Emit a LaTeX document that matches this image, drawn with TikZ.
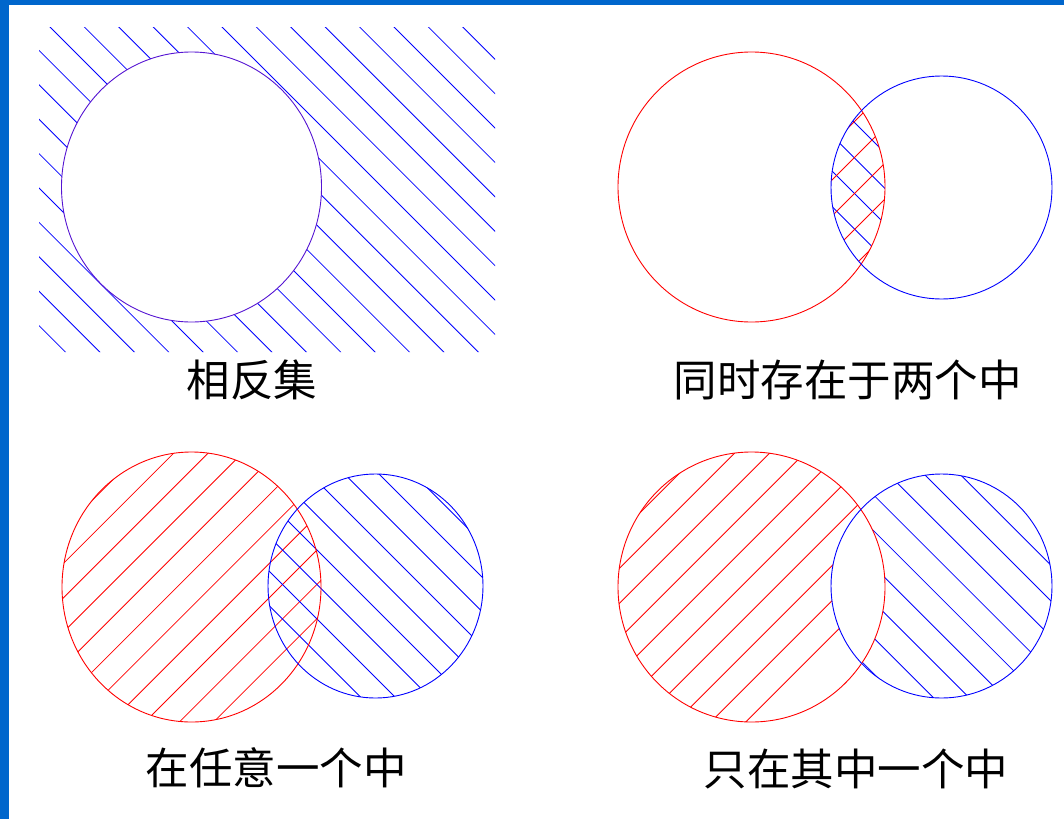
\documentclass[tikz,border=0pt]{standalone}
\usepackage{fontspec}
\newfontfamily\cjk{Noto Sans CJK SC}
\definecolor{frameblue}{RGB}{0,102,204}
\definecolor{hred}{RGB}{255,0,0}
\definecolor{hblue}{RGB}{0,0,255}
\definecolor{outl}{RGB}{85,20,210}
\begin{document}
\begin{tikzpicture}[x=1pt,y=-1pt,
  hatch/.style={line width=0.8pt},
  ring/.style={line width=0.9pt},
  lbl/.style={font=\cjk\fontsize{43.5}{43.5}\selectfont, inner sep=0pt, text=black}]
\useasboundingbox (0,0) rectangle (1064,819);
\fill[frameblue] (0,0) rectangle (1064,5);
\fill[frameblue] (0,0) rectangle (8.5,819);

% ---------- Panel 1: complement ----------
\begin{scope}[even odd rule]
  \clip (39,27) rectangle (495,352) (191.5,187) ellipse [x radius=130, y radius=135];
  \foreach \k in {-12,...,13}
    \draw[hatch,hblue] ({23+34.4*\k},0) -- ({23+34.4*\k+819},819);
\end{scope}
\draw[ring,outl] (191.5,187) ellipse [x radius=130, y radius=135];
\node[lbl] (l1) at (252,380) {相反集};

% ---------- Panel 2: intersection ----------
\begin{scope}
  \clip (751.5,187) ellipse [x radius=133.5, y radius=135];
  \clip (941.5,187.5) ellipse [x radius=110.5, y radius=111.5];
  \foreach \k in {-4,...,6}
    \draw[hatch,hblue] ({661+35.5*\k},0) -- ({661+35.5*\k+819},819);
  \foreach \k in {-4,...,6}
    \draw[hatch,hred] ({1012+36*\k},0) -- ({1012+36*\k-819},819);
\end{scope}
\draw[ring,hred] (751.5,187) ellipse [x radius=133.5, y radius=135];
\draw[ring,hblue] (941.5,187.5) ellipse [x radius=110.5, y radius=111.5];
\node[lbl] (l2) at (847.5,380) {同时存在于两个中};

% ---------- Panel 3: union ----------
\begin{scope}
  \clip (191.5,587) ellipse [x radius=129.5, y radius=135];
  \foreach \k in {-12,...,8}
    \draw[hatch,hred] ({867+34.3*\k},0) -- ({867+34.3*\k-819},819);
\end{scope}
\begin{scope}
  \clip (375.5,586) ellipse [x radius=107.5, y radius=112];
  \foreach \k in {-10,...,10}
    \draw[hatch,hblue] ({-129.5+34.5*\k},0) -- ({-129.5+34.5*\k+819},819);
\end{scope}
\draw[ring,hred] (191.5,587) ellipse [x radius=129.5, y radius=135];
\draw[ring,hblue] (375.5,586) ellipse [x radius=107.5, y radius=112];
\node[lbl] (l3) at (276,768) {在任意一个中};

% ---------- Panel 4: symmetric difference ----------
\begin{scope}[even odd rule]
  \clip (751.5,587) ellipse [x radius=133.5, y radius=135];
  \clip (600,430) rectangle (900,740) (941.5,586) ellipse [x radius=110.5, y radius=112];
  \foreach \k in {-12,...,8}
    \draw[hatch,hred] ({1187.7+35*\k},0) -- ({1187.7+35*\k-819},819);
\end{scope}
\begin{scope}[even odd rule]
  \clip (941.5,586) ellipse [x radius=110.5, y radius=112];
  \clip (800,450) rectangle (1064,720) (751.5,587) ellipse [x radius=133.5, y radius=135];
  \foreach \k in {-10,...,10}
    \draw[hatch,hblue] ({450+35.7*\k},0) -- ({450+35.7*\k+819},819);
\end{scope}
\draw[ring,hred] (751.5,587) ellipse [x radius=133.5, y radius=135];
\draw[ring,hblue] (941.5,586) ellipse [x radius=110.5, y radius=112];
\node[lbl] (l4) at (856,769) {只在其中一个中};
\end{tikzpicture}
\end{document}
